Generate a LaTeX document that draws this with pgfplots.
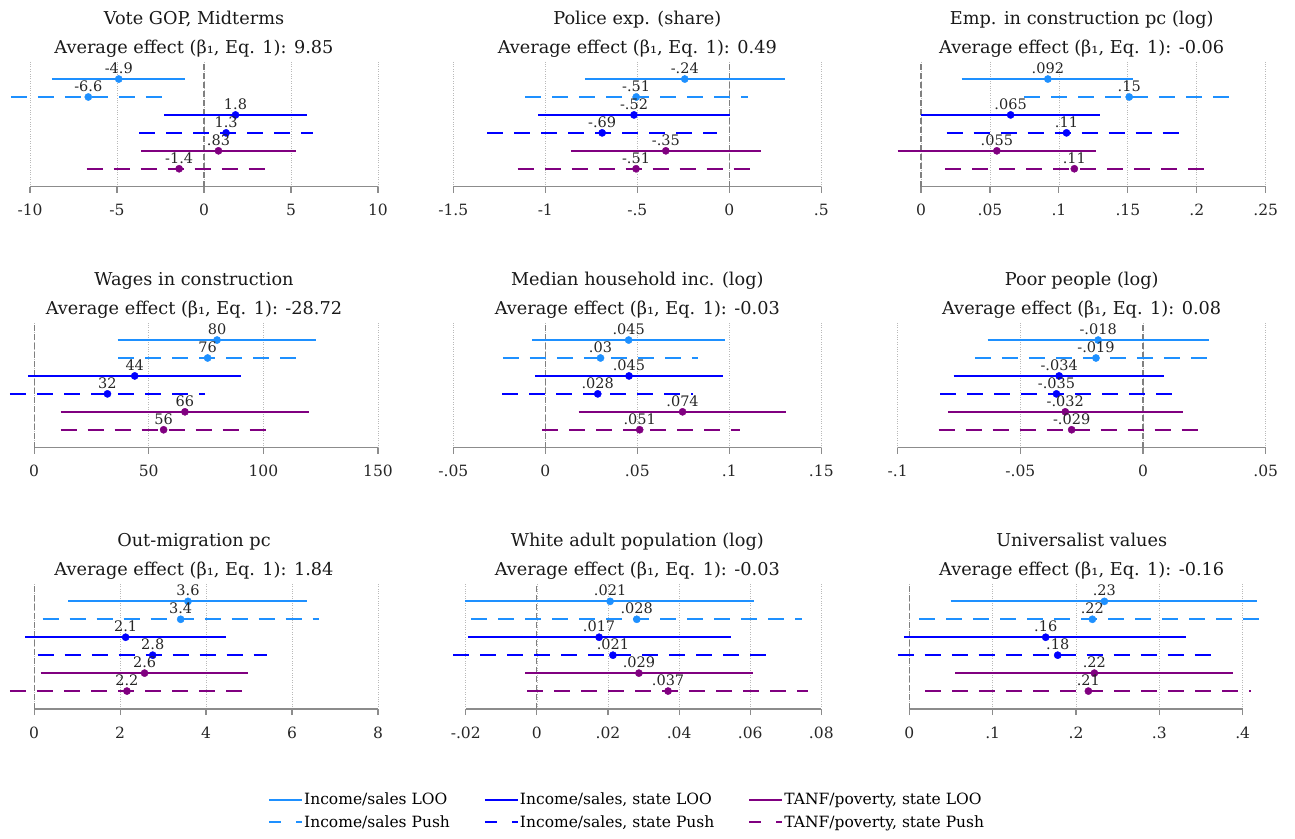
\documentclass[border=0pt]{standalone}
\usepackage{pgfplots}
\pgfplotsset{compat=1.18}
\usepackage{fontspec}
\setmainfont{DejaVu Serif}
\definecolor{LB}{RGB}{30,144,255}
\definecolor{BL}{RGB}{0,0,255}
\definecolor{PU}{RGB}{128,0,128}
\definecolor{axgray}{RGB}{140,140,140}
\newcommand{\titfont}{\fontsize{17.7}{21}\selectfont}
\newcommand{\tickfont}{\fontsize{15.5}{18}\selectfont}
\newcommand{\labfont}{\fontsize{14.5}{17}\selectfont}
\newcommand{\legfont}{\fontsize{15.5}{18}\selectfont}
\tikzset{dsh/.style={dash pattern=on 16pt off 11pt}}
\pgfplotsset{
  panel/.style={
    scale only axis, width=368pt, height=125.6pt, anchor=north west,
    ymin=0, ymax=7, ytick=\empty,
    axis line style={draw=none},
    scaled x ticks=false,
    xtick pos=bottom, tick align=outside, major tick length=6pt,
    every tick/.style={axgray, line width=1.1pt},
    xmajorgrids, grid style={gray!55, dotted, line width=0.7pt},
    xticklabel style={font=\tickfont, text=black!85, yshift=-8pt},
    clip=false,
  }
}
% #1 style, #2 row, #3 estimate, #4 lower, #5 upper, #6 label
\newcommand{\ci}[6]{%
  \addplot[#1, line width=2pt, forget plot] coordinates {(#4,#2) (#5,#2)};
  \addplot[#1, solid, only marks, mark=*, mark size=3.6pt, forget plot,
    nodes near coords={#6},
    every node near coord/.append style={font=\labfont, text=black!85, anchor=base, yshift=5.5pt, inner sep=0pt}]
    coordinates {(#3,#2)};
}
\newcommand{\ptitle}[2]{%
  \node[anchor=base, font=\titfont, text=black!90, yshift=37pt] at (axis description cs:0.5,1) {#1};
  \node[anchor=base, font=\titfont, text=black!90, yshift=8pt] at (axis description cs:0.5,1) {#2};
}
\newcommand{\base}[2]{%
  \addplot[axgray, line width=1.1pt, forget plot] coordinates {(#1,0) (#2,0)};
  \addplot[gray, line width=1.1pt, dash pattern=on 6pt off 3pt, forget plot] coordinates {(0,0) (0,7)};
}
\begin{document}
\begin{tikzpicture}
\useasboundingbox (0,0) rectangle (1295pt,-838pt);
% ---------- Row 1 ----------
\begin{axis}[panel, at={(10pt,-61.1pt)}, xmin=-11.15, xmax=10,
  xtick={-10,-5,0,5,10}, xticklabels={-10,-5,0,5,10}]
\base{-10}{10}
\ci{LB}{6}{-4.9}{-8.75}{-1.08}{-4.9}
\ci{LB,dsh}{5}{-6.65}{-11.1}{-2.2}{-6.6}
\ci{BL}{4}{1.81}{-2.29}{5.92}{1.8}
\ci{BL,dsh}{3}{1.27}{-3.71}{6.28}{1.3}
\ci{PU}{2}{0.83}{-3.62}{5.28}{.83}
\ci{PU,dsh}{1}{-1.43}{-6.74}{3.88}{-1.4}
\ptitle{Vote GOP, Midterms}{Average effect (β₁, Eq. 1): 9.85}
\end{axis}
\begin{axis}[panel, at={(453.3pt,-61.1pt)}, xmin=-1.5, xmax=0.5,
  xtick={-1.5,-1,-0.5,0,0.5}, xticklabels={-1.5,-1,-.5,0,.5}]
\base{-1.5}{0.5}
\ci{LB}{6}{-0.242}{-0.785}{0.301}{-.24}
\ci{LB,dsh}{5}{-0.506}{-1.11}{0.10}{-.51}
\ci{BL}{4}{-0.518}{-1.038}{0.002}{-.52}
\ci{BL,dsh}{3}{-0.691}{-1.315}{-0.066}{-.69}
\ci{PU}{2}{-0.345}{-0.861}{0.171}{-.35}
\ci{PU,dsh}{1}{-0.507}{-1.151}{0.138}{-.51}
\ptitle{Police exp. (share)}{Average effect (β₁, Eq. 1): 0.49}
\end{axis}
\begin{axis}[panel, at={(897.7pt,-61.1pt)}, xmin=-0.0169, xmax=0.25,
  xtick={0,0.05,0.1,0.15,0.2,0.25}, xticklabels={0,.05,.1,.15,.2,.25}]
\base{0}{0.25}
\ci{LB}{6}{0.092}{0.0295}{0.154}{.092}
\ci{LB,dsh}{5}{0.151}{0.075}{0.227}{.15}
\ci{BL}{4}{0.065}{0.0}{0.130}{.065}
\ci{BL,dsh}{3}{0.1055}{0.0186}{0.1925}{.11}
\ci{PU}{2}{0.055}{-0.0169}{0.1267}{.055}
\ci{PU,dsh}{1}{0.1112}{0.0174}{0.2053}{.11}
\ptitle{Emp. in construction pc (log)}{Average effect (β₁, Eq. 1): -0.06}
\end{axis}
% ---------- Row 2 ----------
\begin{axis}[panel, at={(10pt,-322.1pt)}, xmin=-10.5, xmax=150,
  xtick={0,50,100,150}, xticklabels={0,50,100,150}]
\base{0}{150}
\ci{LB}{6}{79.8}{36.4}{123.1}{80}
\ci{LB,dsh}{5}{75.7}{36.8}{114.7}{76}
\ci{BL}{4}{43.9}{-2.5}{90.2}{44}
\ci{BL,dsh}{3}{32.0}{-10.5}{74.6}{32}
\ci{PU}{2}{65.8}{11.6}{119.9}{66}
\ci{PU,dsh}{1}{56.5}{11.6}{101.5}{56}
\ptitle{Wages in construction}{Average effect (β₁, Eq. 1): -28.72}
\end{axis}
\begin{axis}[panel, at={(453.3pt,-322.1pt)}, xmin=-0.05, xmax=0.15,
  xtick={-0.05,0,0.05,0.1,0.15}, xticklabels={-.05,0,.05,.1,.15}]
\base{-0.05}{0.15}
\ci{LB}{6}{0.0453}{-0.0072}{0.0978}{.045}
\ci{LB,dsh}{5}{0.0300}{-0.023}{0.083}{.03}
\ci{BL}{4}{0.0455}{-0.0054}{0.0965}{.045}
\ci{BL,dsh}{3}{0.0285}{-0.0235}{0.0805}{.028}
\ci{PU}{2}{0.0746}{0.0181}{0.1309}{.074}
\ci{PU,dsh}{1}{0.0513}{-0.0016}{0.1058}{.051}
\ptitle{Median household inc. (log)}{Average effect (β₁, Eq. 1): -0.03}
\end{axis}
\begin{axis}[panel, at={(897.7pt,-322.1pt)}, xmin=-0.1, xmax=0.05,
  xtick={-0.1,-0.05,0,0.05}, xticklabels={-.1,-.05,0,.05}]
\base{-0.1}{0.05}
\ci{LB}{6}{-0.0183}{-0.0634}{0.0268}{-.018}
\ci{LB,dsh}{5}{-0.0192}{-0.0685}{0.0300}{-.019}
\ci{BL}{4}{-0.0342}{-0.0772}{0.0087}{-.034}
\ci{BL,dsh}{3}{-0.0353}{-0.0826}{0.0118}{-.035}
\ci{PU}{2}{-0.0317}{-0.0796}{0.0163}{-.032}
\ci{PU,dsh}{1}{-0.0291}{-0.0833}{0.0250}{-.029}
\ptitle{Poor people (log)}{Average effect (β₁, Eq. 1): 0.08}
\end{axis}
% ---------- Row 3 ----------
\begin{axis}[panel, at={(10pt,-583.4pt)}, xmin=-0.56, xmax=8,
  xtick={0,2,4,6,8}, xticklabels={0,2,4,6,8}]
\base{0}{8}
\ci{LB}{6}{3.58}{0.80}{6.35}{3.6}
\ci{LB,dsh}{5}{3.41}{0.20}{6.62}{3.4}
\ci{BL}{4}{2.13}{-0.21}{4.46}{2.1}
\ci{BL,dsh}{3}{2.76}{0.085}{5.41}{2.8}
\ci{PU}{2}{2.57}{0.155}{4.97}{2.6}
\ci{PU,dsh}{1}{2.16}{-0.56}{4.88}{2.2}
\ptitle{Out-migration pc}{Average effect (β₁, Eq. 1): 1.84}
\end{axis}
\begin{axis}[panel, at={(453.3pt,-583.4pt)}, xmin=-0.0235, xmax=0.08,
  xtick={-0.02,0,0.02,0.04,0.06,0.08}, xticklabels={-.02,0,.02,.04,.06,.08}]
\base{-0.02}{0.08}
\ci{LB}{6}{0.0206}{-0.0202}{0.0612}{.021}
\ci{LB,dsh}{5}{0.0281}{-0.0185}{0.0747}{.028}
\ci{BL}{4}{0.0175}{-0.0194}{0.0546}{.017}
\ci{BL,dsh}{3}{0.0214}{-0.0235}{0.0663}{.021}
\ci{PU}{2}{0.0287}{-0.0033}{0.0608}{.029}
\ci{PU,dsh}{1}{0.0369}{-0.0027}{0.0763}{.037}
\ptitle{White adult population (log)}{Average effect (β₁, Eq. 1): -0.03}
\end{axis}
\begin{axis}[panel, at={(897.7pt,-583.4pt)}, xmin=-0.014, xmax=0.4276,
  xtick={0,0.1,0.2,0.3,0.4}, xticklabels={0,.1,.2,.3,.4}]
\base{0}{0.4}
\ci{LB}{6}{0.234}{0.0496}{0.4168}{.23}
\ci{LB,dsh}{5}{0.2196}{0.0116}{0.4276}{.22}
\ci{BL}{4}{0.1636}{-0.006}{0.332}{.16}
\ci{BL,dsh}{3}{0.178}{-0.014}{0.370}{.18}
\ci{PU}{2}{0.222}{0.0548}{0.3888}{.22}
\ci{PU,dsh}{1}{0.2148}{0.0188}{0.410}{.21}
\ptitle{Universalist values}{Average effect (β₁, Eq. 1): -0.16}
\end{axis}
% ---------- Legend ----------
\begin{axis}[hide axis, scale only axis, width=10pt, height=10pt,
  xmin=0, xmax=1, ymin=0, ymax=1, at={(268pt,-792pt)}, anchor=north west,
  legend columns=3, legend cell align=left,
  legend style={at={(0,1)}, anchor=north west, draw=none, fill=none,
    font=\legfont, inner sep=0pt, row sep=7pt, nodes={inner sep=1pt},
    /tikz/every even column/.append style={column sep=33pt}},
  legend image code/.code={\draw[line width=2pt, #1] (0pt,0pt) -- (33pt,0pt);}]
\addlegendimage{LB}
\addlegendentry{Income/sales LOO}
\addlegendimage{BL}
\addlegendentry{Income/sales, state LOO}
\addlegendimage{PU}
\addlegendentry{TANF/poverty, state LOO}
\addlegendimage{LB, dash pattern=on 12pt off 15pt}
\addlegendentry{Income/sales Push}
\addlegendimage{BL, dash pattern=on 12pt off 15pt}
\addlegendentry{Income/sales, state Push}
\addlegendimage{PU, dash pattern=on 12pt off 15pt}
\addlegendentry{TANF/poverty, state Push}
\end{axis}
\end{tikzpicture}
\end{document}
